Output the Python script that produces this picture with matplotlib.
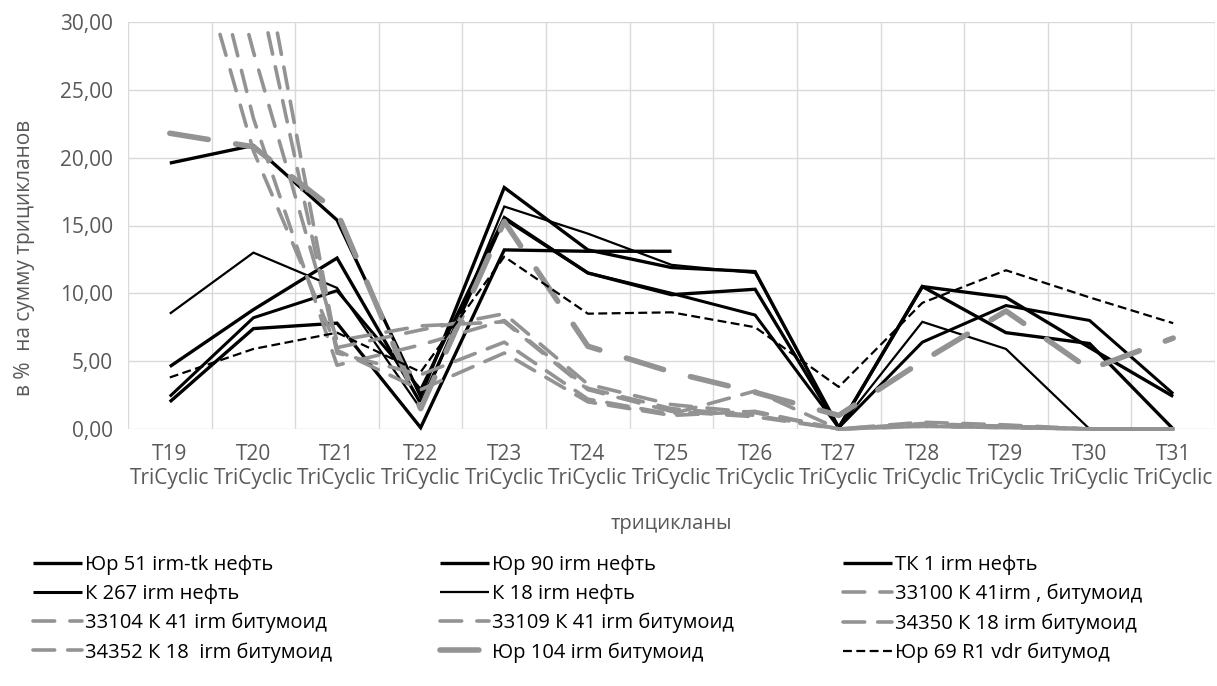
import numpy as np
import matplotlib.pyplot as plt
from matplotlib.patches import Rectangle

plt.rcParams['font.family'] = ['Open Sans', 'DejaVu Sans']
plt.rcParams['font.size'] = 14.5

categories = ['T19', 'T20', 'T21', 'T22', 'T23', 'T24', 'T25', 'T26', 'T27', 'T28', 'T29', 'T30', 'T31']
tick_labels = [c + '\nTriCyclic' for c in categories]
nan = np.nan

yur51 = [19.6, 20.9, 15.4, 2.4, 17.8, 13.2, 11.9, 11.6, 0.1, 10.5, 9.7, 6.0, 2.4]
yur90 = [2.0, 7.4, 7.8, 0.1, 13.2, 13.1, 13.1, nan, nan, nan, nan, nan, nan]
tk1 = [4.6, 8.8, 12.6, 1.9, 15.5, 11.5, 9.9, 10.3, 0.1, 10.5, 7.1, 6.3, 0.0]
k267 = [2.4, 8.2, 10.2, 2.9, 15.6, 11.5, 10.0, 8.4, 0.1, 6.4, 9.1, 8.0, 2.6]
k18 = [8.5, 13.0, 10.4, 1.5, 16.4, 14.4, 12.1, 11.5, 0.1, 7.9, 5.9, 0.0, 0.0]
s33100 = [42.0, 20.5, 6.0, 7.3, 8.5, 3.3, 1.8, 1.2, 0.0, 0.5, 0.3, 0.0, 0.0]
s33104 = [47.5, 22.9, 4.7, 6.2, 8.0, 3.0, 1.5, 1.0, 0.0, 0.4, 0.2, 0.0, 0.0]
s33109 = [51.0, 27.8, 6.5, 7.6, 7.9, 2.9, 1.3, 0.9, 0.0, 0.3, 0.2, 0.0, 0.0]
s34350 = [nan, 34.2, 5.6, 4.0, 6.4, 2.2, 1.1, 2.8, 0.0, 0.2, 0.1, 0.0, 0.0]
s34352 = [nan, 38.6, 5.8, 2.9, 5.6, 2.0, 1.0, 1.3, 0.0, 0.2, 0.1, 0.0, 0.0]
yur104 = [21.8, 20.8, 16.0, 1.5, 15.3, 6.1, 4.2, 2.7, 1.0, 5.0, 8.7, 4.4, 6.7]
yur69 = [3.8, 5.9, 7.1, 4.2, 12.7, 8.5, 8.6, 7.5, 3.1, 9.3, 11.7, 9.7, 7.8]

gray = '#939393'
txt = '#595959'

fig = plt.figure(figsize=(12.17, 6.86), dpi=100)
ax = fig.add_axes([128 / 1217, 1 - 429 / 686, (1215 - 128) / 1217, (429 - 22) / 686])
x = np.arange(len(categories))

# let lines at zero show their full width like in excel
clip = Rectangle((0, -0.03), 1, 1.03, transform=ax.transAxes, visible=False)
ax.add_patch(clip)

def line(y, label, color='black', lw=2.4, dashes=None, cap='butt'):
    l, = ax.plot(x, y, color=color, lw=lw, label=label, solid_joinstyle='miter',
                 dash_capstyle=cap, solid_capstyle='butt')
    if dashes:
        l.set_dashes(dashes)
    l.set_clip_path(clip)
    return l

h = []
h.append(line(yur51, 'Юр 51 irm-tk нефть'))
h.append(line(yur90, 'Юр 90 irm нефть'))
h.append(line(tk1, 'ТК 1 irm нефть'))
h.append(line(k267, 'К 267 irm нефть', lw=2.2))
h.append(line(k18, 'К 18 irm нефть', lw=1.6))
h.append(line(s33100, '33100 К 41irm , битумоид', gray, 2.6, (6, 4.2), 'round'))
h.append(line(s33104, '33104 К 41 irm битумоид', gray, 2.6, (6, 4.2), 'round'))
h.append(line(s33109, '33109 К 41 irm битумоид', gray, 2.6, (6, 4.2), 'round'))
h.append(line(s34350, '34350 К 18 irm битумоид', gray, 2.6, (6, 3.6), 'round'))
h.append(line(s34352, '34352 К 18  irm битумоид', gray, 2.6, (6, 3.6), 'round'))
h.append(line(yur104, 'Юр 104 irm битумоид', gray, 4.0, (7, 5), 'round'))
h.append(line(yur69, 'Юр 69 R1 vdr битумод', 'black', 1.6, (4, 2)))

ax.set_xlim(-0.5, len(categories) - 0.5)
ax.set_ylim(0, 30)
ax.set_yticks(np.arange(0, 31, 5))
ax.set_yticklabels(['%d,00' % v for v in range(0, 31, 5)])
ax.set_xticks(x)
ax.set_xticklabels(tick_labels, linespacing=1.15)
ax.set_xticks(np.arange(-0.5, len(categories), 1), minor=True)
ax.grid(axis='y', which='major', color='#d9d9d9', lw=1.0)
ax.grid(axis='x', which='minor', color='#d9d9d9', lw=1.0)
ax.set_axisbelow(True)
for s in ax.spines.values():
    s.set_visible(False)
ax.tick_params(which='both', length=0, colors=txt, labelsize=15)
ax.tick_params(axis='y', pad=11)
ax.tick_params(axis='x', pad=11)
ax.set_xlabel('трицикланы', color=txt, labelpad=18)
ax.set_ylabel('в %  на сумму трицикланов', color=txt, fontsize=15)
ax.yaxis.set_label_coords(-0.086, 0.42)

cols = [[0, 3, 6, 9], [1, 4, 7, 10], [2, 5, 8, 11]]
xs = [33, 440, 843]
for c, x0 in zip(cols, xs):
    leg = fig.legend([h[i] for i in c], [h[i].get_label() for i in c], loc='upper left',
                     bbox_to_anchor=(x0 / 1217, 1 - 555 / 686), frameon=False,
                     handlelength=2.45, handletextpad=0.15, labelspacing=0.44, borderpad=0,
                     borderaxespad=0)

fig.savefig('out.png', dpi=100)
